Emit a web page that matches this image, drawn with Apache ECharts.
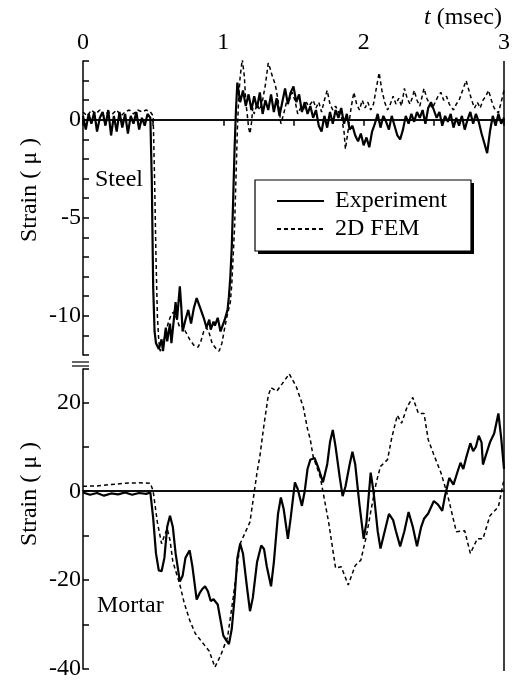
<!DOCTYPE html>
<html>
<head>
<meta charset="utf-8">
<script src="https://cdn.jsdelivr.net/npm/echarts@6/dist/echarts.min.js"></script>
<style>
html,body{margin:0;padding:0;background:#fff;}
#main{width:514px;height:681px;}
</style>
</head>
<body>
<div id="main"></div>
<script>
// time axis (msec)
var xTicks = [0, 1, 2, 3];

// Steel - experiment
var steelExpT = [0,0.02,0.04,0.06,0.08,0.1,0.12,0.14,0.16,0.18,0.2,0.22,0.24,0.26,0.28,0.3,0.32,0.34,0.36,0.38,0.4,0.42,0.44,0.46,0.48,
  0.49,0.5,0.51,0.52,0.54,0.56,0.57,0.59,0.6,0.62,0.63,0.65,0.66,0.67,0.69,0.7,0.71,0.73,0.75,0.77,0.79,0.81,0.82,0.84,0.86,0.88,0.9,0.91,0.93,0.94,0.96,0.98,0.99,1.01,1.03,1.04,1.05,1.06,1.07,1.08,1.09,
  1.1,1.12,1.14,1.16,1.18,1.2,1.22,1.24,1.26,1.28,1.3,1.32,1.34,1.36,1.38,1.4,1.42,1.44,1.46,1.48,1.5,1.52,1.54,1.56,1.58,1.6,1.62,1.64,1.66,1.68,1.7,1.72,1.74,1.76,1.78,1.8,1.82,1.84,1.86,1.88,1.9,1.92,1.94,1.96,1.98,
  2,2.02,2.04,2.06,2.08,2.1,2.12,2.14,2.16,2.18,2.2,2.22,2.24,2.26,2.28,2.3,2.32,2.34,2.36,2.38,2.4,2.42,2.44,2.46,2.48,2.5,2.52,2.54,2.56,2.58,2.6,2.62,2.64,2.66,2.68,2.7,2.72,2.74,2.76,2.78,2.8,2.82,2.84,2.86,2.88,2.9,2.92,2.94,2.96,2.98,3];
var steelExpV = [0.2,-0.5,0.3,-0.2,0.4,-0.6,0.1,0.4,-0.3,0.5,-0.8,0.2,-0.6,0.4,-0.4,0.3,-0.7,0.2,-0.2,0.4,-0.5,0.1,-0.3,0.3,0.1,
  -3,-8.5,-10.8,-11.4,-11.7,-11.2,-11.8,-10.6,-11.3,-10.4,-11.4,-10,-9.3,-10.2,-8.5,-9.5,-10.8,-10.2,-9.7,-10.4,-9.6,-9.1,-9,-9.7,-10.1,-10.6,-10.2,-10.7,-10.3,-10.5,-10.1,-10.8,-10.9,-10.2,-9.7,-9,-8,-6.5,-4.1,-1.5,0.5,
  1.9,0.9,1.5,0.7,1.3,0.5,1.2,0.6,1.4,0.3,1,0.5,1.3,0.4,1.1,0.2,0.9,1.6,0.8,1.4,1.7,0.9,1.3,0.4,0.9,0.3,0.7,0.1,0.5,-0.3,-0.6,0.2,-0.4,0.4,-0.2,0.5,0.1,0.6,-0.2,0.3,-0.5,-0.3,-0.8,-1.1,-0.7,
  -1.3,-0.9,-1.4,-0.6,-0.2,0.3,-0.4,0.2,-0.1,-0.5,0.2,-0.3,-0.8,-1,-0.5,0.2,-0.2,0.3,-0.1,0.4,0.1,0.5,-0.2,0.6,0.9,0.5,0.1,0.4,-0.3,0.2,-0.1,0.3,-0.4,0.1,-0.3,0.2,-0.5,0,0.4,-0.2,0.3,-0.1,-0.7,-1.2,-1.7,-0.6,0.2,-0.3,0.3,-0.2,0.1];

// Steel - 2D FEM
var steelFemT = [0,0.03,0.06,0.09,0.12,0.15,0.18,0.21,0.24,0.27,0.3,0.33,0.36,0.39,0.42,0.45,0.48,0.5,0.51,0.52,0.53,0.54,0.55,0.57,0.59,0.61,0.63,0.65,0.67,0.69,0.71,0.73,0.76,0.79,0.82,0.84,0.86,0.88,0.9,0.92,0.95,0.97,0.99,1.01,1.03,1.05,1.06,1.08,1.09,
  1.1,1.11,1.12,1.135,1.15,1.16,1.17,1.18,1.19,1.2,1.21,1.22,1.24,1.26,1.28,1.3,1.32,1.33,1.35,1.36,1.37,1.39,1.41,1.43,1.45,1.47,1.49,1.51,1.53,1.55,1.57,1.59,1.61,1.64,1.66,1.68,1.7,1.72,1.74,1.76,1.78,1.8,1.82,1.84,1.86,1.87,1.89,1.91,1.93,1.95,1.97,1.99,
  2.01,2.03,2.05,2.07,2.09,2.11,2.13,2.15,2.17,2.19,2.21,2.23,2.25,2.27,2.29,2.31,2.33,2.35,2.36,2.38,2.4,2.43,2.45,2.47,2.49,2.51,2.53,2.55,2.57,2.59,2.61,2.64,2.66,2.68,2.7,2.73,2.75,2.77,2.79,2.81,2.83,2.85,2.87,2.89,2.91,2.93,2.96,2.98,3];
var steelFemV = [0.4,0.2,0.5,0.3,0.5,0.2,0.4,0.3,0.5,0.2,0.4,0.5,0.3,0.5,0.4,0.5,0.4,0.2,-3,-7,-10,-11.3,-11.8,-11.5,-10.8,-10.3,-9.9,-9.8,-10.2,-10.6,-10.5,-10.8,-11.2,-11.5,-11.6,-11.3,-10.8,-10.6,-10.9,-11.4,-11.7,-11.8,-11.4,-10.6,-9.9,-9.3,-8.4,-5.5,-3,
  -0.5,1.2,2.2,3.1,2.2,0.9,0.3,-0.4,-0.7,-0.2,0.6,0.3,0.8,0.5,1,1.8,2.9,2.7,2.2,2,1.8,1,-0.2,0.3,0.9,1,1.4,1,0.3,0.6,0.5,0.9,0.7,1,0.6,0.9,0.4,1,1.5,0.8,0.5,0.7,0.4,0.2,-0.6,-1.5,-0.5,0.6,1.4,0.8,0.5,1,
  0.6,0.9,0.5,0.8,1.6,2.4,1.5,0.9,0.5,0.8,1.2,0.8,1.1,0.7,1.6,1.1,0.8,1.2,1.5,1,0.7,1.6,1.1,0.8,0.6,0.9,1.2,1.4,1,1.2,0.8,0.5,0.8,1,1.4,2,1.5,1,0.6,0.9,0.6,1,1.2,1.5,1,0.6,0.35,0.9,1.5];

// Mortar - experiment
var mortarExpT = [0,0.05,0.1,0.15,0.2,0.25,0.3,0.35,0.4,0.45,0.48,0.5,0.52,0.54,0.56,0.58,0.6,0.62,0.64,0.66,0.69,0.71,0.73,0.76,0.78,0.81,0.83,0.85,0.87,0.89,0.91,0.93,0.96,0.98,1,1.02,1.04,1.06,1.08,1.1,1.12,1.14,1.17,1.19,1.21,1.24,1.27,1.29,1.31,1.34,1.36,1.39,1.41,1.43,1.46,1.48,
  1.51,1.53,1.56,1.58,1.6,1.62,1.65,1.68,1.71,1.74,1.76,1.78,1.8,1.83,1.85,1.87,1.9,1.92,1.94,1.97,2,2.02,2.05,2.07,2.1,2.12,2.15,2.18,2.21,2.23,2.26,2.29,2.32,2.35,2.38,2.41,2.43,2.46,2.5,2.53,2.56,2.58,2.61,2.64,2.67,2.69,2.71,2.73,2.76,2.78,2.8,2.82,2.84,2.85,2.87,2.9,2.93,2.96,2.98,3];
var mortarExpV = [-0.3,-0.8,-0.4,-1,-0.5,-0.7,-0.3,-0.8,-0.4,-0.6,-0.3,-6,-14,-17.8,-18,-15,-8,-5.5,-8,-14,-20.3,-19,-15,-13.3,-17,-24.4,-23,-22,-21.4,-22.5,-24.7,-24.3,-25.5,-29,-32.5,-33.5,-34.4,-31,-24,-15,-11.8,-14,-22,-27,-24,-16,-12.2,-13,-17,-21.4,-16,-5,-1.4,-4,-10.7,-6,
  2,0.5,-3.3,0,5,7.1,7.5,5,2,6,11,13.8,10,3,-1.1,1,6,8.9,6,-3,-10.7,-7,4.2,0,-9,-12.9,-9,-5.1,-6.5,-9,-12.4,-9,-4.7,-8,-12.4,-8,-6.2,-5,-2.2,-3,-4.4,-1,3,1.5,4.5,6.4,5,7.5,10.8,9,10,12.5,11,6,8,11,13,17.5,12,5];

// Mortar - 2D FEM
var mortarFemT = [0,0.1,0.2,0.3,0.4,0.48,0.5,0.53,0.56,0.58,0.6,0.62,0.64,0.69,0.72,0.76,0.8,0.86,0.9,0.94,0.98,1.03,1.07,1.12,1.19,1.24,1.26,1.29,1.32,1.34,1.38,1.42,1.47,1.52,1.57,1.6,1.62,1.64,1.69,1.75,1.8,1.84,1.89,1.94,1.98,
  2.02,2.05,2.09,2.12,2.17,2.2,2.24,2.27,2.31,2.35,2.39,2.43,2.46,2.5,2.55,2.6,2.66,2.72,2.76,2.81,2.85,2.9,2.96,3];
var mortarFemV = [1.1,1.2,1.5,1.8,1.9,1.8,0,-7,-11.8,-10,-8.4,-11,-15.8,-21,-25,-29,-32,-34.4,-36,-39.6,-37,-32.9,-24,-11.8,-6.9,4.2,7.8,15,21.5,23.3,22.5,24.2,26.4,23.5,18.9,14,11.6,7.8,3.3,-6.9,-17.3,-17,-21.1,-16.7,-15.5,
  -10,-4.7,2,5.6,7.1,12,17.1,15.3,19,21.1,17.5,17.5,11.6,8.2,4.2,-1.1,-9.1,-8.9,-14,-10.7,-10.7,-5.5,-3.5,2.7];

var steelLabels = [0, -5, -10];
var mortarLabels = [20, 0, -20, -40];

function zip(t, v) {
  var out = [];
  for (var i = 0; i < t.length; i++) { out.push([t[i], v[i]]); }
  return out;
}

var FONT = 'Liberation Serif';
var chart = echarts.init(document.getElementById('main'));

var zeroLine = {
  silent: true, symbol: 'none', label: {show: false},
  lineStyle: {color: '#000', type: 'solid', width: 1.5},
  data: [{yAxis: 0}]
};

var option = {
  animation: false,
  backgroundColor: '#fff',
  textStyle: {fontFamily: FONT, color: '#000'},
  grid: [
    {left: 83, right: 10, top: 61, height: 294},
    {left: 83, right: 10, top: 369, height: 302}
  ],
  xAxis: [
    {
      gridIndex: 0, type: 'value', position: 'top', min: 0, max: 3, interval: 0.5,
      axisLine: {lineStyle: {color: '#000', width: 1.5}},
      axisTick: {inside: true, length: 6, lineStyle: {color: '#000', width: 1.5}},
      axisLabel: {
        color: '#000', fontFamily: FONT, fontSize: 24, margin: 6,
        formatter: function (v) { return xTicks.indexOf(v) >= 0 ? String(v) : ''; }
      },
      splitLine: {show: false}
    },
    {
      gridIndex: 1, type: 'value', position: 'bottom', min: 0, max: 3, interval: 0.5,
      axisLine: {lineStyle: {color: '#000', width: 1.5}},
      axisTick: {show: false}, axisLabel: {show: false}, splitLine: {show: false}
    }
  ],
  yAxis: [
    {
      gridIndex: 0, type: 'value', min: -12, max: 3, interval: 1,
      axisLine: {show: true, lineStyle: {color: '#000', width: 1.5}},
      axisTick: {show: true, inside: true, length: 6, lineStyle: {color: '#000', width: 1.5}},
      axisLabel: {
        color: '#000', fontFamily: FONT, fontSize: 24, margin: 2,
        formatter: function (v) { return steelLabels.indexOf(v) >= 0 ? String(v) : ''; }
      },
      splitLine: {show: false}
    },
    {
      gridIndex: 1, type: 'value', min: -40, max: 27.5, interval: 10,
      axisLine: {show: true, lineStyle: {color: '#000', width: 1.5}},
      axisTick: {show: true, inside: true, length: 6, lineStyle: {color: '#000', width: 1.5}},
      axisLabel: {
        color: '#000', fontFamily: FONT, fontSize: 24, margin: 2,
        formatter: function (v) { return mortarLabels.indexOf(v) >= 0 ? String(v) : ''; }
      },
      splitLine: {show: false}
    }
  ],
  legend: {
    orient: 'vertical', left: 255, top: 180, z: 10,
    padding: [9, 22, 9, 21], itemGap: 4, itemWidth: 47, itemHeight: 14,
    backgroundColor: 'transparent', borderWidth: 0,
    itemStyle: {color: 'rgba(0,0,0,0)', borderWidth: 0, opacity: 0},
    textStyle: {fontFamily: FONT, fontSize: 24, color: '#000', padding: [0, 0, 0, 6]},
    data: ['Experiment', '2D FEM']
  },
  series: [
    {
      name: 'Experiment', type: 'line', xAxisIndex: 0, yAxisIndex: 0,
      data: zip(steelExpT, steelExpV), showSymbol: false, symbol: 'none',
      lineStyle: {color: '#000', width: 2.2}, itemStyle: {color: '#000'},
      markLine: zeroLine, z: 3
    },
    {
      name: '2D FEM', type: 'line', xAxisIndex: 0, yAxisIndex: 0,
      data: zip(steelFemT, steelFemV), showSymbol: false, symbol: 'none',
      lineStyle: {color: '#000', width: 1.5, type: [4, 3]}, itemStyle: {color: '#000'}
    },
    {
      name: 'Experiment', type: 'line', xAxisIndex: 1, yAxisIndex: 1,
      data: zip(mortarExpT, mortarExpV), showSymbol: false, symbol: 'none',
      lineStyle: {color: '#000', width: 2.2}, itemStyle: {color: '#000'},
      markLine: zeroLine, z: 3
    },
    {
      name: '2D FEM', type: 'line', xAxisIndex: 1, yAxisIndex: 1,
      data: zip(mortarFemT, mortarFemV), showSymbol: false, symbol: 'none',
      lineStyle: {color: '#000', width: 1.5, type: [4, 3]}, itemStyle: {color: '#000'}
    }
  ],
  graphic: [
    // right frame edge
    {type: 'line', shape: {x1: 504, y1: 61, x2: 504, y2: 671}, style: {stroke: '#000', lineWidth: 1.5}, silent: true},
    // axis break marks
    {type: 'line', shape: {x1: 72, y1: 362, x2: 89, y2: 362}, style: {stroke: '#000', lineWidth: 1.2}, silent: true},
    {type: 'line', shape: {x1: 72, y1: 366, x2: 89, y2: 366}, style: {stroke: '#000', lineWidth: 1.2}, silent: true},
    // legend box with drop shadow
    {type: 'rect', z: 5, shape: {x: 258, y: 183, width: 216, height: 71}, style: {fill: '#000'}, silent: true},
    {type: 'rect', z: 6, shape: {x: 255, y: 180, width: 216, height: 71}, style: {fill: '#fff', stroke: '#000', lineWidth: 1.2}, silent: true},
    {type: 'text', left: 95, top: 168, style: {text: 'Steel', font: '24px "Liberation Serif"', fill: '#000'}},
    {type: 'text', left: 97, top: 594, style: {text: 'Mortar', font: '24px "Liberation Serif"', fill: '#000'}},
    {type: 'text', x: 30, y: 190, rotation: Math.PI / 2,
      style: {text: 'Strain ( \u03bc )', font: '24px "Liberation Serif"', fill: '#000', align: 'center', verticalAlign: 'middle'}},
    {type: 'text', x: 30, y: 494, rotation: Math.PI / 2,
      style: {text: 'Strain ( \u03bc )', font: '24px "Liberation Serif"', fill: '#000', align: 'center', verticalAlign: 'middle'}},
    {type: 'text', right: 12, top: 6,
      style: {
        text: '{i|t} (msec)', font: '24px "Liberation Serif"', fill: '#000',
        rich: {i: {fontStyle: 'italic', fontFamily: FONT, fontSize: 24}}
      }}
  ]
};

chart.setOption(option);
</script>
</body>
</html>
